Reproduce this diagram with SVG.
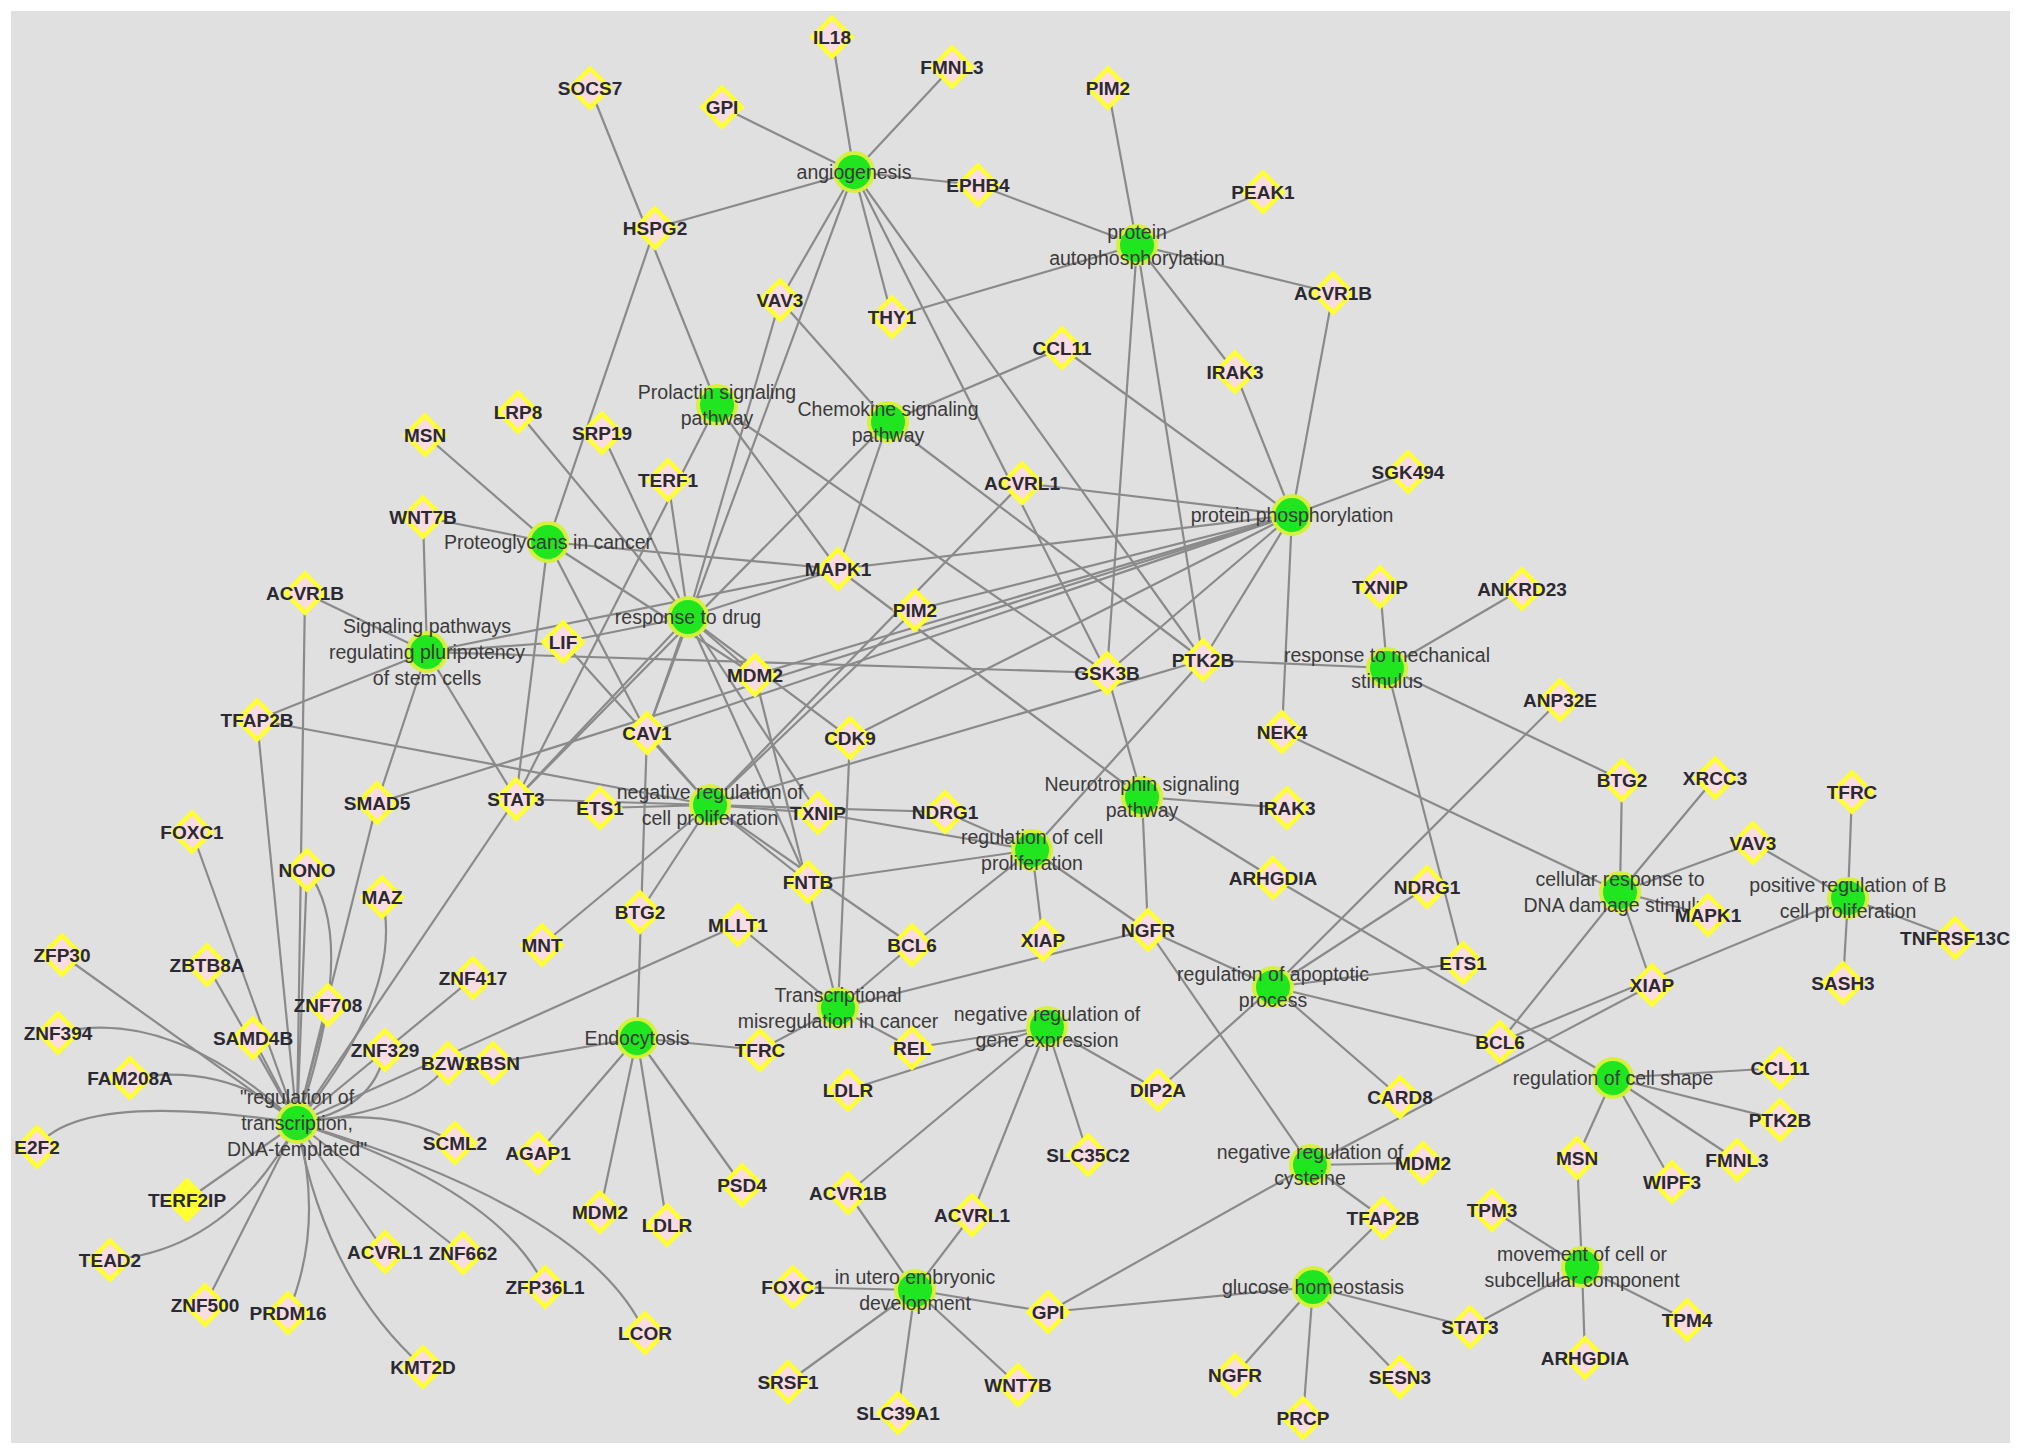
<svg xmlns="http://www.w3.org/2000/svg" xmlns:xlink="http://www.w3.org/1999/xlink" width="2031" height="1456" viewBox="0 0 2031 1456">
<defs>
<style>
.e{stroke:#8a8a8a;stroke-width:2.2;fill:none}
.d{fill:#fadde3;stroke:#ffff33;stroke-width:4.5;stroke-linejoin:miter}
.dy{fill:#ffff33;stroke:#ffff33;stroke-width:4.5}
.h{fill:#1fe61f;stroke:#d6f03c;stroke-width:4}
.gt{font-family:"Liberation Sans",Arial,sans-serif;font-size:19px;font-weight:bold;fill:#2a2a33;text-anchor:middle}
.ht{font-family:"Liberation Sans",Arial,sans-serif;font-size:19.5px;fill:#3a3a3a;text-anchor:middle}
</style>
<polygon id="dia" points="0,-19.5 19.5,0 0,19.5 -19.5,0"/>
</defs>
<rect x="0" y="0" width="2031" height="1456" fill="#ffffff"/>
<rect x="11" y="11" width="1999" height="1432" fill="#e0e0e0"/>
<g id="edges" class="e">
<line x1="854" y1="172" x2="832" y2="37"/><line x1="854" y1="172" x2="952" y2="67"/><line x1="854" y1="172" x2="722" y2="107"/><line x1="854" y1="172" x2="978" y2="185"/><line x1="854" y1="172" x2="655" y2="228"/><line x1="854" y1="172" x2="780" y2="300"/><line x1="854" y1="172" x2="892" y2="317"/><line x1="854" y1="172" x2="647" y2="733"/><line x1="854" y1="172" x2="1203" y2="660"/><line x1="854" y1="172" x2="1107" y2="673"/>
<line x1="1137" y1="245" x2="1108" y2="88"/><line x1="1137" y1="245" x2="1263" y2="192"/><line x1="1137" y1="245" x2="1333" y2="293"/><line x1="1137" y1="245" x2="1235" y2="372"/><line x1="1137" y1="245" x2="978" y2="185"/><line x1="1137" y1="245" x2="892" y2="317"/><line x1="1137" y1="245" x2="1107" y2="673"/><line x1="1137" y1="245" x2="1203" y2="660"/>
<line x1="717" y1="405" x2="590" y2="88"/><line x1="717" y1="405" x2="516" y2="799"/><line x1="717" y1="405" x2="838" y2="569"/><line x1="717" y1="405" x2="1107" y2="673"/>
<line x1="888" y1="422" x2="780" y2="300"/><line x1="888" y1="422" x2="1062" y2="348"/><line x1="888" y1="422" x2="838" y2="569"/><line x1="888" y1="422" x2="1203" y2="660"/><line x1="888" y1="422" x2="516" y2="799"/>
<line x1="1292" y1="515" x2="1235" y2="372"/><line x1="1292" y1="515" x2="1333" y2="293"/><line x1="1292" y1="515" x2="1408" y2="472"/><line x1="1292" y1="515" x2="1062" y2="348"/><line x1="1292" y1="515" x2="1022" y2="483"/><line x1="1292" y1="515" x2="1282" y2="732"/><line x1="1292" y1="515" x2="1203" y2="660"/><line x1="1292" y1="515" x2="1107" y2="673"/><line x1="1292" y1="515" x2="838" y2="569"/><line x1="1292" y1="515" x2="915" y2="610"/><line x1="1292" y1="515" x2="850" y2="738"/><line x1="1292" y1="515" x2="755" y2="675"/><line x1="1292" y1="515" x2="647" y2="733"/><line x1="1292" y1="515" x2="377" y2="803"/>
<line x1="548" y1="542" x2="423" y2="517"/><line x1="548" y1="542" x2="655" y2="228"/><line x1="548" y1="542" x2="425" y2="435"/><line x1="548" y1="542" x2="516" y2="799"/><line x1="548" y1="542" x2="647" y2="733"/><line x1="548" y1="542" x2="838" y2="569"/><line x1="548" y1="542" x2="755" y2="675"/>
<line x1="688" y1="617" x2="668" y2="480"/><line x1="688" y1="617" x2="518" y2="412"/><line x1="688" y1="617" x2="602" y2="433"/><line x1="688" y1="617" x2="780" y2="300"/><line x1="688" y1="617" x2="563" y2="642"/><line x1="688" y1="617" x2="755" y2="675"/><line x1="688" y1="617" x2="647" y2="733"/><line x1="688" y1="617" x2="516" y2="799"/><line x1="688" y1="617" x2="838" y2="569"/><line x1="688" y1="617" x2="850" y2="738"/><line x1="688" y1="617" x2="818" y2="813"/><line x1="688" y1="617" x2="808" y2="882"/>
<line x1="427" y1="652" x2="423" y2="517"/><line x1="427" y1="652" x2="305" y2="593"/><line x1="427" y1="652" x2="257" y2="720"/><line x1="427" y1="652" x2="377" y2="803"/><line x1="427" y1="652" x2="516" y2="799"/><line x1="427" y1="652" x2="563" y2="642"/><line x1="427" y1="652" x2="838" y2="569"/><line x1="427" y1="652" x2="1107" y2="673"/>
<line x1="710" y1="805" x2="600" y2="808"/><line x1="710" y1="805" x2="516" y2="799"/><line x1="710" y1="805" x2="647" y2="733"/><line x1="710" y1="805" x2="640" y2="912"/><line x1="710" y1="805" x2="542" y2="945"/><line x1="710" y1="805" x2="818" y2="813"/><line x1="710" y1="805" x2="945" y2="812"/><line x1="710" y1="805" x2="808" y2="882"/><line x1="710" y1="805" x2="912" y2="945"/><line x1="710" y1="805" x2="1203" y2="660"/><line x1="710" y1="805" x2="915" y2="610"/><line x1="710" y1="805" x2="1022" y2="483"/><line x1="710" y1="805" x2="257" y2="720"/><line x1="710" y1="805" x2="563" y2="642"/>
<line x1="1032" y1="850" x2="818" y2="813"/><line x1="1032" y1="850" x2="945" y2="812"/><line x1="1032" y1="850" x2="808" y2="882"/><line x1="1032" y1="850" x2="912" y2="945"/><line x1="1032" y1="850" x2="1043" y2="940"/><line x1="1032" y1="850" x2="1148" y2="930"/><line x1="1032" y1="850" x2="1203" y2="660"/>
<line x1="1142" y1="797" x2="1107" y2="673"/><line x1="1142" y1="797" x2="1287" y2="808"/><line x1="1142" y1="797" x2="1148" y2="930"/><line x1="1142" y1="797" x2="1273" y2="878"/><line x1="1142" y1="797" x2="838" y2="569"/>
<line x1="1387" y1="668" x2="1380" y2="587"/><line x1="1387" y1="668" x2="1522" y2="589"/><line x1="1387" y1="668" x2="1203" y2="660"/><line x1="1387" y1="668" x2="1463" y2="963"/><line x1="1387" y1="668" x2="1622" y2="780"/>
<line x1="1620" y1="892" x2="1622" y2="780"/><line x1="1620" y1="892" x2="1715" y2="778"/><line x1="1620" y1="892" x2="1753" y2="843"/><line x1="1620" y1="892" x2="1708" y2="915"/><line x1="1620" y1="892" x2="1500" y2="1042"/><line x1="1620" y1="892" x2="1652" y2="985"/><line x1="1620" y1="892" x2="1282" y2="732"/>
<line x1="1848" y1="898" x2="1852" y2="792"/><line x1="1848" y1="898" x2="1753" y2="843"/><line x1="1848" y1="898" x2="1955" y2="938"/><line x1="1848" y1="898" x2="1843" y2="983"/><line x1="1848" y1="898" x2="1500" y2="1042"/>
<line x1="1273" y1="987" x2="1560" y2="700"/><line x1="1273" y1="987" x2="1427" y2="887"/><line x1="1273" y1="987" x2="1463" y2="963"/><line x1="1273" y1="987" x2="1500" y2="1042"/><line x1="1273" y1="987" x2="1400" y2="1097"/><line x1="1273" y1="987" x2="1158" y2="1090"/><line x1="1273" y1="987" x2="1148" y2="930"/>
<line x1="1047" y1="1027" x2="912" y2="1048"/><line x1="1047" y1="1027" x2="848" y2="1090"/><line x1="1047" y1="1027" x2="1158" y2="1090"/><line x1="1047" y1="1027" x2="1088" y2="1155"/><line x1="1047" y1="1027" x2="848" y2="1193"/><line x1="1047" y1="1027" x2="972" y2="1215"/>
<line x1="838" y1="1008" x2="760" y2="1050"/><line x1="838" y1="1008" x2="912" y2="1048"/><line x1="838" y1="1008" x2="738" y2="925"/><line x1="838" y1="1008" x2="912" y2="945"/><line x1="838" y1="1008" x2="850" y2="738"/><line x1="838" y1="1008" x2="755" y2="675"/><line x1="838" y1="1008" x2="1148" y2="930"/>
<line x1="637" y1="1038" x2="647" y2="733"/><line x1="637" y1="1038" x2="760" y2="1050"/><line x1="637" y1="1038" x2="493" y2="1063"/><line x1="637" y1="1038" x2="538" y2="1153"/><line x1="637" y1="1038" x2="600" y2="1212"/><line x1="637" y1="1038" x2="667" y2="1225"/><line x1="637" y1="1038" x2="742" y2="1185"/>
<line x1="1613" y1="1078" x2="1780" y2="1068"/><line x1="1613" y1="1078" x2="1780" y2="1120"/><line x1="1613" y1="1078" x2="1737" y2="1160"/><line x1="1613" y1="1078" x2="1672" y2="1182"/><line x1="1613" y1="1078" x2="1577" y2="1158"/><line x1="1613" y1="1078" x2="1273" y2="878"/>
<line x1="1310" y1="1165" x2="1423" y2="1163"/><line x1="1310" y1="1165" x2="1383" y2="1218"/><line x1="1310" y1="1165" x2="1048" y2="1312"/><line x1="1310" y1="1165" x2="1148" y2="930"/><line x1="1310" y1="1165" x2="1652" y2="985"/>
<line x1="1313" y1="1287" x2="1383" y2="1218"/><line x1="1313" y1="1287" x2="1048" y2="1312"/><line x1="1313" y1="1287" x2="1470" y2="1327"/><line x1="1313" y1="1287" x2="1235" y2="1375"/><line x1="1313" y1="1287" x2="1303" y2="1418"/><line x1="1313" y1="1287" x2="1400" y2="1377"/>
<line x1="1582" y1="1267" x2="1577" y2="1158"/><line x1="1582" y1="1267" x2="1492" y2="1210"/><line x1="1582" y1="1267" x2="1687" y2="1320"/><line x1="1582" y1="1267" x2="1585" y2="1358"/><line x1="1582" y1="1267" x2="1470" y2="1327"/>
<line x1="915" y1="1290" x2="848" y2="1193"/><line x1="915" y1="1290" x2="972" y2="1215"/><line x1="915" y1="1290" x2="793" y2="1287"/><line x1="915" y1="1290" x2="1048" y2="1312"/><line x1="915" y1="1290" x2="788" y2="1382"/><line x1="915" y1="1290" x2="898" y2="1413"/><line x1="915" y1="1290" x2="1018" y2="1385"/>
<line x1="297" y1="1123" x2="62" y2="955"/><line x1="297" y1="1123" x2="207" y2="965"/><line x1="297" y1="1123" x2="192" y2="832"/><line x1="297" y1="1123" x2="257" y2="720"/><line x1="297" y1="1123" x2="305" y2="593"/><line x1="297" y1="1123" x2="307" y2="870"/><line x1="297" y1="1123" x2="377" y2="803"/><line x1="297" y1="1123" x2="516" y2="799"/><line x1="297" y1="1123" x2="473" y2="978"/><line x1="297" y1="1123" x2="328" y2="1005"/><line x1="297" y1="1123" x2="253" y2="1038"/><line x1="297" y1="1123" x2="738" y2="925"/><line x1="297" y1="1123" x2="187" y2="1200"/><line x1="297" y1="1123" x2="205" y2="1305"/><line x1="297" y1="1123" x2="385" y2="1252"/><line x1="297" y1="1123" x2="463" y2="1253"/>
<path d="M58,1033 Q170,1005 297,1123"/><path d="M130,1078 Q230,1062 297,1123"/><path d="M37,1147 Q80,1090 297,1123"/><path d="M110,1260 Q230,1250 297,1123"/><path d="M288,1313 Q325,1225 297,1123"/><path d="M423,1367 Q325,1280 297,1123"/><path d="M297,1123 Q500,1190 545,1287"/><path d="M297,1123 Q590,1210 645,1333"/><path d="M455,1143 Q390,1105 297,1123"/><path d="M448,1063 Q420,1110 297,1123"/><path d="M385,1050 Q375,1110 297,1123"/><path d="M307,870 Q360,940 297,1123"/><path d="M382,897 Q405,990 297,1123"/>
</g>
<g id="hubs">
<g id="h-angiogenesis"><circle class="h" cx="854" cy="172" r="19"/><text class="ht" x="854" y="179">angiogenesis</text></g>
<g id="h-protein-autophosphorylation"><circle class="h" cx="1137" cy="245" r="19"/><text class="ht" x="1137" y="239">protein</text><text class="ht" x="1137" y="265">autophosphorylation</text></g>
<g id="h-prolactin"><circle class="h" cx="717" cy="405" r="19"/><text class="ht" x="717" y="399">Prolactin signaling</text><text class="ht" x="717" y="425">pathway</text></g>
<g id="h-chemokine"><circle class="h" cx="888" cy="422" r="19"/><text class="ht" x="888" y="416">Chemokine signaling</text><text class="ht" x="888" y="442">pathway</text></g>
<g id="h-protein-phosphorylation"><circle class="h" cx="1292" cy="515" r="19"/><text class="ht" x="1292" y="522">protein phosphorylation</text></g>
<g id="h-proteoglycans"><circle class="h" cx="548" cy="542" r="19"/><text class="ht" x="548" y="549">Proteoglycans in cancer</text></g>
<g id="h-response-to-drug"><circle class="h" cx="688" cy="617" r="19"/><text class="ht" x="688" y="624">response to drug</text></g>
<g id="h-pluripotency"><circle class="h" cx="427" cy="652" r="19"/><text class="ht" x="427" y="633">Signaling pathways</text><text class="ht" x="427" y="659">regulating pluripotency</text><text class="ht" x="427" y="685">of stem cells</text></g>
<g id="h-neg-cell-prolif"><circle class="h" cx="710" cy="805" r="19"/><text class="ht" x="710" y="799">negative regulation of</text><text class="ht" x="710" y="825">cell proliferation</text></g>
<g id="h-cell-prolif"><circle class="h" cx="1032" cy="850" r="19"/><text class="ht" x="1032" y="844">regulation of cell</text><text class="ht" x="1032" y="870">proliferation</text></g>
<g id="h-neurotrophin"><circle class="h" cx="1142" cy="797" r="19"/><text class="ht" x="1142" y="791">Neurotrophin signaling</text><text class="ht" x="1142" y="817">pathway</text></g>
<g id="h-mechanical"><circle class="h" cx="1387" cy="668" r="19"/><text class="ht" x="1387" y="662">response to mechanical</text><text class="ht" x="1387" y="688">stimulus</text></g>
<g id="h-dna-damage"><circle class="h" cx="1620" cy="892" r="19"/><text class="ht" x="1620" y="886">cellular response to</text><text class="ht" x="1620" y="912">DNA damage stimulus</text></g>
<g id="h-b-cell"><circle class="h" cx="1848" cy="898" r="19"/><text class="ht" x="1848" y="892">positive regulation of B</text><text class="ht" x="1848" y="918">cell proliferation</text></g>
<g id="h-apoptotic"><circle class="h" cx="1273" cy="987" r="19"/><text class="ht" x="1273" y="981">regulation of apoptotic</text><text class="ht" x="1273" y="1007">process</text></g>
<g id="h-gene-expression"><circle class="h" cx="1047" cy="1027" r="19"/><text class="ht" x="1047" y="1021">negative regulation of</text><text class="ht" x="1047" y="1047">gene expression</text></g>
<g id="h-transcriptional"><circle class="h" cx="838" cy="1008" r="19"/><text class="ht" x="838" y="1002">Transcriptional</text><text class="ht" x="838" y="1028">misregulation in cancer</text></g>
<g id="h-endocytosis"><circle class="h" cx="637" cy="1038" r="19"/><text class="ht" x="637" y="1045">Endocytosis</text></g>
<g id="h-transcription"><circle class="h" cx="297" cy="1123" r="19"/><text class="ht" x="297" y="1104">"regulation of</text><text class="ht" x="297" y="1130">transcription,</text><text class="ht" x="297" y="1156">DNA-templated"</text></g>
<g id="h-cell-shape"><circle class="h" cx="1613" cy="1078" r="19"/><text class="ht" x="1613" y="1085">regulation of cell shape</text></g>
<g id="h-cysteine"><circle class="h" cx="1310" cy="1165" r="19"/><text class="ht" x="1310" y="1159">negative regulation of</text><text class="ht" x="1310" y="1185">cysteine</text></g>
<g id="h-glucose"><circle class="h" cx="1313" cy="1287" r="19"/><text class="ht" x="1313" y="1294">glucose homeostasis</text></g>
<g id="h-movement"><circle class="h" cx="1582" cy="1267" r="19"/><text class="ht" x="1582" y="1261">movement of cell or</text><text class="ht" x="1582" y="1287">subcellular component</text></g>
<g id="h-in-utero"><circle class="h" cx="915" cy="1290" r="19"/><text class="ht" x="915" y="1284">in utero embryonic</text><text class="ht" x="915" y="1310">development</text></g>
</g>
<g id="genes">
<g id="n-IL18" transform="translate(832,37)"><use href="#dia" class="d"/><text class="gt" y="7">IL18</text></g>
<g id="n-FMNL3" transform="translate(952,67)"><use href="#dia" class="d"/><text class="gt" y="7">FMNL3</text></g>
<g id="n-SOCS7" transform="translate(590,88)"><use href="#dia" class="d"/><text class="gt" y="7">SOCS7</text></g>
<g id="n-GPI" transform="translate(722,107)"><use href="#dia" class="d"/><text class="gt" y="7">GPI</text></g>
<g id="n-EPHB4" transform="translate(978,185)"><use href="#dia" class="d"/><text class="gt" y="7">EPHB4</text></g>
<g id="n-HSPG2" transform="translate(655,228)"><use href="#dia" class="d"/><text class="gt" y="7">HSPG2</text></g>
<g id="n-VAV3" transform="translate(780,300)"><use href="#dia" class="d"/><text class="gt" y="7">VAV3</text></g>
<g id="n-THY1" transform="translate(892,317)"><use href="#dia" class="d"/><text class="gt" y="7">THY1</text></g>
<g id="n-PIM2" transform="translate(1108,88)"><use href="#dia" class="d"/><text class="gt" y="7">PIM2</text></g>
<g id="n-PEAK1" transform="translate(1263,192)"><use href="#dia" class="d"/><text class="gt" y="7">PEAK1</text></g>
<g id="n-ACVR1B" transform="translate(1333,293)"><use href="#dia" class="d"/><text class="gt" y="7">ACVR1B</text></g>
<g id="n-CCL11" transform="translate(1062,348)"><use href="#dia" class="d"/><text class="gt" y="7">CCL11</text></g>
<g id="n-IRAK3" transform="translate(1235,372)"><use href="#dia" class="d"/><text class="gt" y="7">IRAK3</text></g>
<g id="n-SGK494" transform="translate(1408,472)"><use href="#dia" class="d"/><text class="gt" y="7">SGK494</text></g>
<g id="n-ACVRL1" transform="translate(1022,483)"><use href="#dia" class="d"/><text class="gt" y="7">ACVRL1</text></g>
<g id="n-MSN" transform="translate(425,435)"><use href="#dia" class="d"/><text class="gt" y="7">MSN</text></g>
<g id="n-LRP8" transform="translate(518,412)"><use href="#dia" class="d"/><text class="gt" y="7">LRP8</text></g>
<g id="n-SRP19" transform="translate(602,433)"><use href="#dia" class="d"/><text class="gt" y="7">SRP19</text></g>
<g id="n-TERF1" transform="translate(668,480)"><use href="#dia" class="d"/><text class="gt" y="7">TERF1</text></g>
<g id="n-WNT7B" transform="translate(423,517)"><use href="#dia" class="d"/><text class="gt" y="7">WNT7B</text></g>
<g id="n-ACVR1B-2" transform="translate(305,593)"><use href="#dia" class="d"/><text class="gt" y="7">ACVR1B</text></g>
<g id="n-TFAP2B" transform="translate(257,720)"><use href="#dia" class="d"/><text class="gt" y="7">TFAP2B</text></g>
<g id="n-SMAD5" transform="translate(377,803)"><use href="#dia" class="d"/><text class="gt" y="7">SMAD5</text></g>
<g id="n-STAT3" transform="translate(516,799)"><use href="#dia" class="d"/><text class="gt" y="7">STAT3</text></g>
<g id="n-FOXC1" transform="translate(192,832)"><use href="#dia" class="d"/><text class="gt" y="7">FOXC1</text></g>
<g id="n-NONO" transform="translate(307,870)"><use href="#dia" class="d"/><text class="gt" y="7">NONO</text></g>
<g id="n-MAZ" transform="translate(382,897)"><use href="#dia" class="d"/><text class="gt" y="7">MAZ</text></g>
<g id="n-ZFP30" transform="translate(62,955)"><use href="#dia" class="d"/><text class="gt" y="7">ZFP30</text></g>
<g id="n-ZBTB8A" transform="translate(207,965)"><use href="#dia" class="d"/><text class="gt" y="7">ZBTB8A</text></g>
<g id="n-MAPK1" transform="translate(838,569)"><use href="#dia" class="d"/><text class="gt" y="7">MAPK1</text></g>
<g id="n-PIM2-2" transform="translate(915,610)"><use href="#dia" class="d"/><text class="gt" y="7">PIM2</text></g>
<g id="n-LIF" transform="translate(563,642)"><use href="#dia" class="d"/><text class="gt" y="7">LIF</text></g>
<g id="n-MDM2" transform="translate(755,675)"><use href="#dia" class="d"/><text class="gt" y="7">MDM2</text></g>
<g id="n-CAV1" transform="translate(647,733)"><use href="#dia" class="d"/><text class="gt" y="7">CAV1</text></g>
<g id="n-CDK9" transform="translate(850,738)"><use href="#dia" class="d"/><text class="gt" y="7">CDK9</text></g>
<g id="n-ETS1" transform="translate(600,808)"><use href="#dia" class="d"/><text class="gt" y="7">ETS1</text></g>
<g id="n-TXNIP" transform="translate(818,813)"><use href="#dia" class="d"/><text class="gt" y="7">TXNIP</text></g>
<g id="n-NDRG1" transform="translate(945,812)"><use href="#dia" class="d"/><text class="gt" y="7">NDRG1</text></g>
<g id="n-FNTB" transform="translate(808,882)"><use href="#dia" class="d"/><text class="gt" y="7">FNTB</text></g>
<g id="n-BTG2" transform="translate(640,912)"><use href="#dia" class="d"/><text class="gt" y="7">BTG2</text></g>
<g id="n-MLLT1" transform="translate(738,925)"><use href="#dia" class="d"/><text class="gt" y="7">MLLT1</text></g>
<g id="n-MNT" transform="translate(542,945)"><use href="#dia" class="d"/><text class="gt" y="7">MNT</text></g>
<g id="n-BCL6" transform="translate(912,945)"><use href="#dia" class="d"/><text class="gt" y="7">BCL6</text></g>
<g id="n-TXNIP-2" transform="translate(1380,587)"><use href="#dia" class="d"/><text class="gt" y="7">TXNIP</text></g>
<g id="n-ANKRD23" transform="translate(1522,589)"><use href="#dia" class="d"/><text class="gt" y="7">ANKRD23</text></g>
<g id="n-PTK2B" transform="translate(1203,660)"><use href="#dia" class="d"/><text class="gt" y="7">PTK2B</text></g>
<g id="n-GSK3B" transform="translate(1107,673)"><use href="#dia" class="d"/><text class="gt" y="7">GSK3B</text></g>
<g id="n-NEK4" transform="translate(1282,732)"><use href="#dia" class="d"/><text class="gt" y="7">NEK4</text></g>
<g id="n-IRAK3-2" transform="translate(1287,808)"><use href="#dia" class="d"/><text class="gt" y="7">IRAK3</text></g>
<g id="n-ARHGDIA" transform="translate(1273,878)"><use href="#dia" class="d"/><text class="gt" y="7">ARHGDIA</text></g>
<g id="n-NDRG1-2" transform="translate(1427,887)"><use href="#dia" class="d"/><text class="gt" y="7">NDRG1</text></g>
<g id="n-XIAP" transform="translate(1043,940)"><use href="#dia" class="d"/><text class="gt" y="7">XIAP</text></g>
<g id="n-NGFR" transform="translate(1148,930)"><use href="#dia" class="d"/><text class="gt" y="7">NGFR</text></g>
<g id="n-ETS1-2" transform="translate(1463,963)"><use href="#dia" class="d"/><text class="gt" y="7">ETS1</text></g>
<g id="n-ANP32E" transform="translate(1560,700)"><use href="#dia" class="d"/><text class="gt" y="7">ANP32E</text></g>
<g id="n-BTG2-2" transform="translate(1622,780)"><use href="#dia" class="d"/><text class="gt" y="7">BTG2</text></g>
<g id="n-XRCC3" transform="translate(1715,778)"><use href="#dia" class="d"/><text class="gt" y="7">XRCC3</text></g>
<g id="n-TFRC" transform="translate(1852,792)"><use href="#dia" class="d"/><text class="gt" y="7">TFRC</text></g>
<g id="n-VAV3-2" transform="translate(1753,843)"><use href="#dia" class="d"/><text class="gt" y="7">VAV3</text></g>
<g id="n-MAPK1-2" transform="translate(1708,915)"><use href="#dia" class="d"/><text class="gt" y="7">MAPK1</text></g>
<g id="n-TNFRSF13C" transform="translate(1955,938)"><use href="#dia" class="d"/><text class="gt" y="7">TNFRSF13C</text></g>
<g id="n-XIAP-2" transform="translate(1652,985)"><use href="#dia" class="d"/><text class="gt" y="7">XIAP</text></g>
<g id="n-SASH3" transform="translate(1843,983)"><use href="#dia" class="d"/><text class="gt" y="7">SASH3</text></g>
<g id="n-ZNF417" transform="translate(473,978)"><use href="#dia" class="d"/><text class="gt" y="7">ZNF417</text></g>
<g id="n-ZNF708" transform="translate(328,1005)"><use href="#dia" class="d"/><text class="gt" y="7">ZNF708</text></g>
<g id="n-ZNF394" transform="translate(58,1033)"><use href="#dia" class="d"/><text class="gt" y="7">ZNF394</text></g>
<g id="n-SAMD4B" transform="translate(253,1038)"><use href="#dia" class="d"/><text class="gt" y="7">SAMD4B</text></g>
<g id="n-ZNF329" transform="translate(385,1050)"><use href="#dia" class="d"/><text class="gt" y="7">ZNF329</text></g>
<g id="n-BZW1" transform="translate(448,1063)"><use href="#dia" class="d"/><text class="gt" y="7">BZW1</text></g>
<g id="n-RBSN" transform="translate(493,1063)"><use href="#dia" class="d"/><text class="gt" y="7">RBSN</text></g>
<g id="n-FAM208A" transform="translate(130,1078)"><use href="#dia" class="d"/><text class="gt" y="7">FAM208A</text></g>
<g id="n-E2F2" transform="translate(37,1147)"><use href="#dia" class="d"/><text class="gt" y="7">E2F2</text></g>
<g id="n-SCML2" transform="translate(455,1143)"><use href="#dia" class="d"/><text class="gt" y="7">SCML2</text></g>
<g id="n-TERF2IP" transform="translate(187,1200)"><use href="#dia" class="dy"/><text class="gt" y="7">TERF2IP</text></g>
<g id="n-TEAD2" transform="translate(110,1260)"><use href="#dia" class="d"/><text class="gt" y="7">TEAD2</text></g>
<g id="n-ACVRL1-2" transform="translate(385,1252)"><use href="#dia" class="d"/><text class="gt" y="7">ACVRL1</text></g>
<g id="n-ZNF662" transform="translate(463,1253)"><use href="#dia" class="d"/><text class="gt" y="7">ZNF662</text></g>
<g id="n-ZNF500" transform="translate(205,1305)"><use href="#dia" class="d"/><text class="gt" y="7">ZNF500</text></g>
<g id="n-PRDM16" transform="translate(288,1313)"><use href="#dia" class="d"/><text class="gt" y="7">PRDM16</text></g>
<g id="n-KMT2D" transform="translate(423,1367)"><use href="#dia" class="d"/><text class="gt" y="7">KMT2D</text></g>
<g id="n-ZFP36L1" transform="translate(545,1287)"><use href="#dia" class="d"/><text class="gt" y="7">ZFP36L1</text></g>
<g id="n-TFRC-2" transform="translate(760,1050)"><use href="#dia" class="d"/><text class="gt" y="7">TFRC</text></g>
<g id="n-REL" transform="translate(912,1048)"><use href="#dia" class="d"/><text class="gt" y="7">REL</text></g>
<g id="n-LDLR" transform="translate(848,1090)"><use href="#dia" class="d"/><text class="gt" y="7">LDLR</text></g>
<g id="n-AGAP1" transform="translate(538,1153)"><use href="#dia" class="d"/><text class="gt" y="7">AGAP1</text></g>
<g id="n-PSD4" transform="translate(742,1185)"><use href="#dia" class="d"/><text class="gt" y="7">PSD4</text></g>
<g id="n-ACVR1B-3" transform="translate(848,1193)"><use href="#dia" class="d"/><text class="gt" y="7">ACVR1B</text></g>
<g id="n-MDM2-2" transform="translate(600,1212)"><use href="#dia" class="d"/><text class="gt" y="7">MDM2</text></g>
<g id="n-LDLR-2" transform="translate(667,1225)"><use href="#dia" class="d"/><text class="gt" y="7">LDLR</text></g>
<g id="n-ACVRL1-3" transform="translate(972,1215)"><use href="#dia" class="d"/><text class="gt" y="7">ACVRL1</text></g>
<g id="n-FOXC1-2" transform="translate(793,1287)"><use href="#dia" class="d"/><text class="gt" y="7">FOXC1</text></g>
<g id="n-LCOR" transform="translate(645,1333)"><use href="#dia" class="d"/><text class="gt" y="7">LCOR</text></g>
<g id="n-SRSF1" transform="translate(788,1382)"><use href="#dia" class="d"/><text class="gt" y="7">SRSF1</text></g>
<g id="n-SLC39A1" transform="translate(898,1413)"><use href="#dia" class="d"/><text class="gt" y="7">SLC39A1</text></g>
<g id="n-WNT7B-2" transform="translate(1018,1385)"><use href="#dia" class="d"/><text class="gt" y="7">WNT7B</text></g>
<g id="n-BCL6-2" transform="translate(1500,1042)"><use href="#dia" class="d"/><text class="gt" y="7">BCL6</text></g>
<g id="n-DIP2A" transform="translate(1158,1090)"><use href="#dia" class="d"/><text class="gt" y="7">DIP2A</text></g>
<g id="n-CARD8" transform="translate(1400,1097)"><use href="#dia" class="d"/><text class="gt" y="7">CARD8</text></g>
<g id="n-SLC35C2" transform="translate(1088,1155)"><use href="#dia" class="d"/><text class="gt" y="7">SLC35C2</text></g>
<g id="n-MDM2-3" transform="translate(1423,1163)"><use href="#dia" class="d"/><text class="gt" y="7">MDM2</text></g>
<g id="n-TFAP2B-2" transform="translate(1383,1218)"><use href="#dia" class="d"/><text class="gt" y="7">TFAP2B</text></g>
<g id="n-TPM3" transform="translate(1492,1210)"><use href="#dia" class="d"/><text class="gt" y="7">TPM3</text></g>
<g id="n-GPI-2" transform="translate(1048,1312)"><use href="#dia" class="d"/><text class="gt" y="7">GPI</text></g>
<g id="n-STAT3-2" transform="translate(1470,1327)"><use href="#dia" class="d"/><text class="gt" y="7">STAT3</text></g>
<g id="n-NGFR-2" transform="translate(1235,1375)"><use href="#dia" class="d"/><text class="gt" y="7">NGFR</text></g>
<g id="n-SESN3" transform="translate(1400,1377)"><use href="#dia" class="d"/><text class="gt" y="7">SESN3</text></g>
<g id="n-PRCP" transform="translate(1303,1418)"><use href="#dia" class="d"/><text class="gt" y="7">PRCP</text></g>
<g id="n-CCL11-2" transform="translate(1780,1068)"><use href="#dia" class="d"/><text class="gt" y="7">CCL11</text></g>
<g id="n-PTK2B-2" transform="translate(1780,1120)"><use href="#dia" class="d"/><text class="gt" y="7">PTK2B</text></g>
<g id="n-MSN-2" transform="translate(1577,1158)"><use href="#dia" class="d"/><text class="gt" y="7">MSN</text></g>
<g id="n-FMNL3-2" transform="translate(1737,1160)"><use href="#dia" class="d"/><text class="gt" y="7">FMNL3</text></g>
<g id="n-WIPF3" transform="translate(1672,1182)"><use href="#dia" class="d"/><text class="gt" y="7">WIPF3</text></g>
<g id="n-TPM4" transform="translate(1687,1320)"><use href="#dia" class="d"/><text class="gt" y="7">TPM4</text></g>
<g id="n-ARHGDIA-2" transform="translate(1585,1358)"><use href="#dia" class="d"/><text class="gt" y="7">ARHGDIA</text></g>
</g>
</svg>
